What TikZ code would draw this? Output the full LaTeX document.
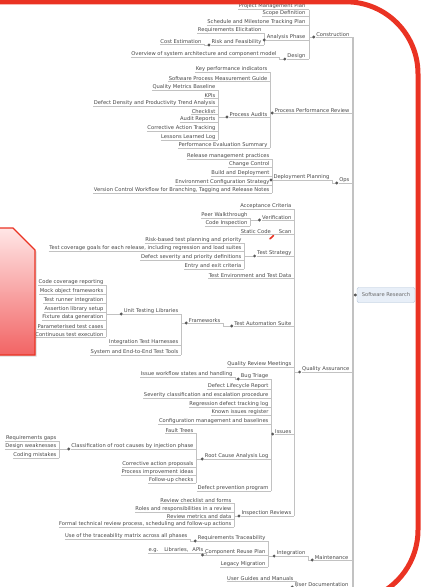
\documentclass[tikz,border=0pt]{standalone}
\usepackage{fontspec}
\setmainfont{DejaVu Sans}
\usetikzlibrary{shadows}

\definecolor{linegray}{HTML}{C2C2C2}
\definecolor{inkgray}{HTML}{464646}
\definecolor{flame}{HTML}{EA3323}
\definecolor{rootfill}{HTML}{E8EFF8}
\definecolor{rootline}{HTML}{AEC0D6}
\definecolor{pinklight}{HTML}{FFE6E6}
\definecolor{pinkdeep}{HTML}{F26464}

\tikzset{
  lbl/.style={inner xsep=0.4pt, inner ysep=0.7pt, font=\fontsize{5.2}{6}\selectfont, text=inkgray},
  conn/.style={draw=linegray, line width=0.9pt},
  trunk/.style={draw=linegray, line width=1.8pt},
  knob/.style={circle, fill=inkgray!90, inner sep=0pt, minimum size=3.2pt},
  rootbox/.style={draw=rootline, fill=rootfill, rounded corners=2pt, minimum width=58pt,
    minimum height=15pt, font=\fontsize{5.2}{6}\selectfont, text=inkgray!80},
}

% label whose underline runs right to the spine of its parent
\newcommand\mmleaf[5]{%
  \node[lbl,anchor=south east] (#1) at (#2,#3) {#4};
  \draw[conn] (#1.south west) -- (#1.south -| #5);}
% vertical spine between two anchors
\newcommand\mmspine[3]{\draw[conn] (#2 -| #1) -- (#3 -| #1);}
% collapse knob of a parent, joined to the spine of its children
\newcommand\mmknob[2]{%
  \draw[conn] ([xshift=-2pt]#1.south west) -- (#1.south -| #2);
  \node[knob] (#1k) at ([xshift=-2pt]#1.south west) {};}

\begin{document}
\begin{tikzpicture}[x=1pt,y=-1pt]
\useasboundingbox (0,0) rectangle (424,587);
\clip (0,0) rectangle (424,587);

% ---------- main trunk and root ----------
\coordinate (T) at (353,0);
\node[rootbox] (root) at (386,295) {Software Research};

\mmleaf{A}{350}{37}{Construction}{T}
\mmleaf{B}{350}{113}{Process Performance Review}{T}
\mmleaf{C}{350}{183}{Ops}{T}
\mmleaf{D}{350}{372}{Quality Assurance}{T}
\mmleaf{E}{349}{560}{Maintenance}{T}
\mmleaf{F}{349}{587}{User Documentation}{T}
\draw[trunk] (A.south -| T) -- (F.south -| T);
\draw[trunk] (root.west) -- (root.west -| T);
\node[knob] (rootk) at ([xshift=-1.5pt]root.west) {};

% ---------- Construction ----------
\coordinate (sA) at (309,0);
\mmleaf{A1}{306}{9.5}{Project Management Plan}{sA}
\mmleaf{A2}{306}{16.5}{Scope Definition}{sA}
\mmleaf{A3}{306}{25}{Schedule and Milestone Tracking Plan}{sA}
\mmleaf{A4}{306}{40}{Analysis Phase}{sA}
\mmleaf{A5}{306}{59}{Design}{sA}
\mmspine{sA}{A1.south}{A5.south}
\mmknob{A}{sA}

\coordinate (sA4) at (264,0);
\mmleaf{A4a}{262}{33}{Requirements Elicitation}{sA4}
\mmleaf{A4b}{262}{45}{Risk and Feasibility}{sA4}
\mmspine{sA4}{A4a.south}{A4b.south}
\mmknob{A4}{sA4}

\coordinate (sA4b) at (204,0);
\mmleaf{A4b1}{202}{44}{Cost Estimation}{sA4b}
\mmspine{sA4b}{A4b1.south}{A4b.south}
\mmknob{A4b}{sA4b}

\coordinate (sA5) at (279,0);
\mmleaf{A5a}{277}{57}{Overview of system architecture and component model}{sA5}
\mmspine{sA5}{A5a.south}{A5.south}
\mmknob{A5}{sA5}

% ---------- Process performance ----------
\coordinate (sB) at (270,0);
\mmleaf{B1}{268}{72}{Key performance indicators}{sB}
\mmleaf{B2}{268}{81}{Software Process Measurement Guide}{sB}
\mmleaf{B3}{268}{117}{Process Audits}{sB}
\mmleaf{B4}{268}{148}{Performance Evaluation Summary}{sB}
\mmspine{sB}{B1.south}{B4.south}
\mmknob{B}{sB}

\coordinate (sB3) at (218,0);
\mmleaf{B3a}{216}{90}{Quality Metrics Baseline}{sB3}
\mmleaf{B3b}{216}{98}{KPIs}{sB3}
\mmleaf{B3c}{216}{106}{Defect Density and Productivity Trend Analysis}{sB3}
\mmleaf{B3d}{216}{114}{Checklist}{sB3}
\mmleaf{B3e}{216}{122}{Audit Reports}{sB3}
\mmleaf{B3f}{216}{131}{Corrective Action Tracking}{sB3}
\mmleaf{B3g}{216}{140}{Lessons Learned Log}{sB3}
\mmspine{sB3}{B3a.south}{B3g.south}
\mmknob{B3}{sB3}

% ---------- Operations ----------
\coordinate (sC) at (332,0);
\mmleaf{C1}{330}{180}{Deployment Planning}{sC}
\mmspine{sC}{C1.south}{C.south}
\mmknob{C}{sC}

\coordinate (sC1) at (272,0);
\mmleaf{C1a}{270}{159}{Release management practices}{sC1}
\mmleaf{C1b}{270}{167}{Change Control}{sC1}
\mmleaf{C1c}{270}{176}{Build and Deployment}{sC1}
\mmleaf{C1d}{270}{185}{Environment Configuration Strategy}{sC1}
\mmleaf{C1e}{270}{193}{Version Control Workflow for Branching, Tagging and Release Notes}{sC1}
\mmspine{sC1}{C1a.south}{C1e.south}
\mmknob{C1}{sC1}

% ---------- Quality assurance ----------
\coordinate (sD) at (294,0);
\mmleaf{D1}{292}{209}{Acceptance Criteria}{sD}
\mmleaf{D2}{292}{220}{Verification}{sD}
\mmleaf{D3}{292}{234}{Static Code\hspace{8pt}Scan}{sD}
\mmleaf{D4}{292}{256}{Test Strategy}{sD}
\mmleaf{D5}{292}{278}{Test Environment and Test Data}{sD}
\mmleaf{D6}{292}{326}{Test Automation Suite}{sD}
\mmleaf{D7}{292}{367}{Quality Review Meetings}{sD}
\mmleaf{D8}{292}{434}{Issues}{sD}
\mmleaf{D9}{292}{516}{Inspection Reviews}{sD}
\mmspine{sD}{D1.south}{D9.south}
\mmknob{D}{sD}

% red marker inside the static-scan label
\draw[flame, line width=1.6pt, line cap=round] ([xshift=-22pt,yshift=-4.8pt]D3.south east) -- ([xshift=-18.5pt,yshift=-1.6pt]D3.south east);

\coordinate (sD2) at (250,0);
\mmleaf{D2a}{248}{218}{Peer Walkthrough}{sD2}
\mmleaf{D2b}{248}{226}{Code Inspection}{sD2}
\mmspine{sD2}{D2a.south}{D2b.south}
\mmknob{D2}{sD2}

\coordinate (sD4) at (244,0);
\mmleaf{D4a}{242}{243}{Risk-based test planning and priority}{sD4}
\mmleaf{D4b}{242}{251}{Test coverage goals for each release, including regression and load suites}{sD4}
\mmleaf{D4c}{242}{260}{Defect severity and priority definitions}{sD4}
\mmleaf{D4d}{242}{269}{Entry and exit criteria}{sD4}
\mmspine{sD4}{D4a.south}{D4d.south}
\mmknob{D4}{sD4}

\coordinate (sD6) at (223,0);
\mmleaf{D6a}{221}{323}{Frameworks}{sD6}
\mmspine{sD6}{D6a.south}{D6.south}
\mmknob{D6}{sD6}

\coordinate (sD6a) at (181,0);
\mmleaf{D6a1}{179}{314}{Unit Testing Libraries}{sD6a}
\mmleaf{D6a2}{179}{345}{Integration Test Harnesses}{sD6a}
\mmleaf{D6a3}{179}{355}{System and End-to-End Test Tools}{sD6a}
\mmspine{sD6a}{D6a1.south}{D6a3.south}
\mmknob{D6a}{sD6a}

\coordinate (sU) at (106,0);
\mmleaf{U1}{104}{285}{Code coverage reporting}{sU}
\mmleaf{U2}{104}{294}{Mock object frameworks}{sU}
\mmleaf{U3}{104}{303}{Test runner integration}{sU}
\mmleaf{U4}{104}{312}{Assertion library setup}{sU}
\mmleaf{U5}{104}{320}{Fixture data generation}{sU}
\mmleaf{U6}{104}{329}{Parameterised test cases}{sU}
\mmleaf{U7}{104}{337}{Continuous test execution}{sU}
\mmspine{sU}{U1.south}{U7.south}
\mmknob{D6a1}{sU}

\coordinate (sD8) at (271,0);
\mmleaf{D8a}{269}{379}{Bug Triage}{sD8}
\mmleaf{D8b}{269}{389}{Defect Lifecycle Report}{sD8}
\mmleaf{D8c}{269}{398}{Severity classification and escalation procedure}{sD8}
\mmleaf{D8d}{269}{407}{Regression defect tracking log}{sD8}
\mmleaf{D8e}{269}{415}{Known issues register}{sD8}
\mmleaf{D8f}{269}{424}{Configuration management and baselines}{sD8}
\mmleaf{D8g}{269}{459}{Root Cause Analysis Log}{sD8}
\mmleaf{D8h}{269}{491}{Defect prevention program}{sD8}
\mmspine{sD8}{D8a.south}{D8h.south}
\mmknob{D8}{sD8}

\coordinate (sD8a) at (235,0);
\mmleaf{D8a1}{233}{377}{Issue workflow states and handling}{sD8a}
\mmspine{sD8a}{D8a1.south}{D8a.south}
\mmknob{D8a}{sD8a}

\coordinate (sG) at (196,0);
\mmleaf{G1}{194}{433}{Fault Trees}{sG}
\mmleaf{G2}{194}{449}{Classification of root causes by injection phase}{sG}
\mmleaf{G3}{194}{467}{Corrective action proposals}{sG}
\mmleaf{G4}{194}{475}{Process improvement ideas}{sG}
\mmleaf{G5}{194}{483}{Follow-up checks}{sG}
\mmspine{sG}{G1.south}{G5.south}
\mmknob{D8g}{sG}

\coordinate (sG2) at (59,0);
\mmleaf{G2a}{57}{441}{Requirements gaps}{sG2}
\mmleaf{G2b}{57}{449}{Design weaknesses}{sG2}
\mmleaf{G2c}{57}{458}{Coding mistakes}{sG2}
\mmspine{sG2}{G2a.south}{G2c.south}
\mmknob{G2}{sG2}

\coordinate (sD9) at (234,0);
\mmleaf{D9a}{232}{503}{Review checklist and forms}{sD9}
\mmleaf{D9b}{232}{512}{Roles and responsibilities in a review}{sD9}
\mmleaf{D9c}{232}{519}{Review metrics and data}{sD9}
\mmleaf{D9d}{232}{527}{Formal technical review process, scheduling and follow-up actions}{sD9}
\mmspine{sD9}{D9a.south}{D9d.south}
\mmknob{D9}{sD9}

% ---------- Maintenance ----------
\coordinate (sE) at (308,0);
\mmleaf{E1}{306}{556}{Integration}{sE}
\mmspine{sE}{E1.south}{E.south}
\mmknob{E}{sE}

\coordinate (sE1) at (268,0);
\mmleaf{E1a}{266}{541}{Requirements Traceability}{sE1}
\mmleaf{E1b}{266}{555}{Component Reuse Plan}{sE1}
\mmleaf{E1c}{266}{567}{Legacy Migration}{sE1}
\mmspine{sE1}{E1a.south}{E1c.south}
\mmknob{E1}{sE1}

\coordinate (sE1a) at (190,0);
\mmleaf{E1a1}{188}{539}{Use of the traceability matrix across all phases}{sE1a}
\mmspine{sE1a}{E1a1.south}{E1a.south}
\mmknob{E1a}{sE1a}

\coordinate (sE1b) at (206,0);
\mmleaf{E1b1}{204}{553}{e.g.\hspace{6pt}Libraries,\hspace{4pt}APIs}{sE1b}
\mmspine{sE1b}{E1b1.south}{E1b.south}
\mmknob{E1b}{sE1b}

% ---------- Documentation ----------
\coordinate (sF) at (296,0);
\mmleaf{F1}{294}{581}{User Guides and Manuals}{sF}
\mmspine{sF}{F1.south}{F.south}
\mmknob{F}{sF}

% ---------- callout and frame ----------
\shade[top color=pinklight, bottom color=pinkdeep, draw=flame, line width=1.2pt,
  drop shadow={opacity=0.3, shadow xshift=1.5pt, shadow yshift=-1.5pt}]
  (-3,228) -- (13,228) -- (35,250) -- (35,355) -- (-3,355) -- cycle;

\draw[flame, line width=5pt] (-5,1.8) -- (346,1.8)
  arc[start angle=-90, end angle=0, radius=72] -- (418,530)
  arc[start angle=0, end angle=70, radius=72];
\end{tikzpicture}
\end{document}
